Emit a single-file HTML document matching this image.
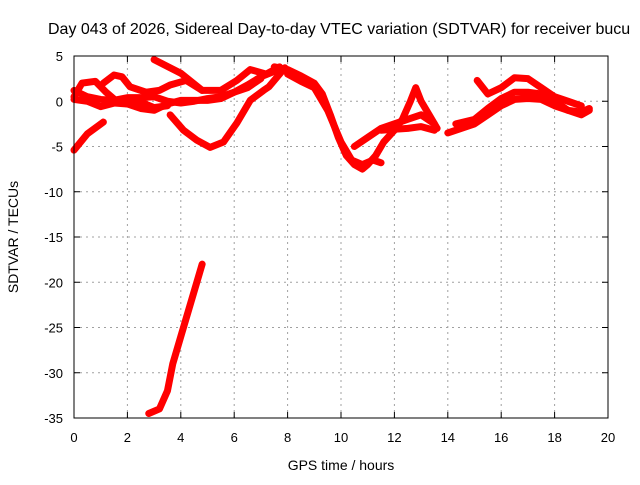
<!DOCTYPE html>
<html><head><meta charset="utf-8"><style>
body{margin:0;background:#fff}
svg{font-family:"Liberation Sans",sans-serif;font-size:13px}
</style></head><body>
<svg id="c" width="640" height="480">
<text x="48" y="34" font-size="16">Day 043 of 2026, Sidereal Day-to-day VTEC variation (SDTVAR) for receiver bucu</text>
<g id="grid"></g><g id="ticks"></g><g id="series"></g>
<rect x="74" y="56" width="534" height="362" fill="none" stroke="#000" stroke-width="1"/>
<text x="341" y="470" text-anchor="middle" font-size="14">GPS time / hours</text>
<text transform="translate(18,237) rotate(-90)" text-anchor="middle" font-size="14">SDTVAR / TECUs</text>
</svg>
<script>
const xTicks=[0,2,4,6,8,10,12,14,16,18,20];
const yTicks=[5,0,-5,-10,-15,-20,-25,-30,-35];
const tracks=[
[[0,-5.4],[0.5,-3.6],[1.1,-2.3]],
[[3.6,-1.5],[4.1,-3.2],[4.6,-4.3],[5.1,-5.1],[5.6,-4.5],[6.1,-2.4],[6.6,0.1],[7.1,1.2],[7.3,1.6],[7.9,3.7]],
[[3.0,4.6],[4.0,3.1],[4.8,1.2],[5.5,1.2],[6.1,2.3],[6.6,3.5],[7.2,3.0],[7.7,3.8]],
[[1.1,2.0],[1.5,2.9],[1.8,2.7],[2.1,1.6],[2.7,1.0],[3.2,1.2],[3.6,1.8],[4.2,2.3],[4.8,1.2]],
[[0,0.5],[0.3,2.0],[0.8,2.2],[1.2,1.0],[1.6,0.0],[2.0,-0.3],[2.5,-0.8],[3.0,-1.0],[3.5,-0.3],[4,0.1],[5,0.1],[5.5,0.3],[6,1.0],[6.5,1.8],[7,2.7],[7.5,3.3]],
[[0,1.2],[0.5,0.5],[1,0.2],[1.5,0.1],[2,0.4],[2.5,0.4],[3,0.5],[3.5,0.0],[4,-0.2],[4.5,0.0],[5,0.3],[5.5,0.5],[6,1.0],[6.5,1.5],[7,2.5]],
[[0,0.2],[0.5,0.0],[1,-0.6],[1.5,-0.2],[2,-0.3],[2.5,-0.1],[3,-0.7],[3.5,-0.5]],
[[7.5,3.8],[8,3.5],[8.5,2.8],[9,2.0],[9.3,0.8],[9.6,-1.5],[9.9,-4],[10.2,-6],[10.5,-7],[10.8,-7.5],[11,-7],[11.3,-6],[11.6,-4.5],[12,-3.2],[12.3,-2],[12.6,0],[12.8,1.5],[13,0],[13.3,-1.5],[13.6,-3]],
[[8,3.0],[8.5,2.2],[9,1.5],[9.5,-1],[10,-4.5],[10.4,-6.5],[10.8,-7],[11.2,-6.5],[11.5,-6.8]],
[[10.5,-5],[11,-4],[11.5,-3],[12,-2.5],[12.5,-2],[13,-1.5],[13.5,-2.5]],
[[11.5,-3.2],[12,-3.1],[12.5,-3],[13,-2.8],[13.5,-3.2]],
[[14,-3.5],[14.5,-3],[15,-2.5],[15.5,-1.5],[16,-0.5],[16.5,0.2],[17,0.3],[17.5,0.2],[18,-0.5],[18.5,-1],[19,-1.5],[19.3,-1]],
[[15.1,2.3],[15.5,0.8],[16,1.5],[16.5,2.6],[17,2.5],[17.5,1.5],[18,0.5],[18.5,0],[19,-0.5]],
[[14.3,-2.5],[15,-2],[15.5,-0.8],[16,0.3],[16.5,1.0],[17,1.0],[17.5,0.8],[18,0],[18.5,-1],[19,-1.2],[19.3,-0.8]],
[[2.8,-34.5],[3.2,-34],[3.5,-32],[3.7,-29],[4.0,-26],[4.3,-23],[4.6,-20],[4.8,-18]]
];
const ns="http://www.w3.org/2000/svg";
const X=h=>74+h*534/20, Y=v=>56+(5-v)*362/40;
const grid=document.getElementById('grid'),ticks=document.getElementById('ticks'),ser=document.getElementById('series');
function mk(t,a,p){const e=document.createElementNS(ns,t);for(const k in a)e.setAttribute(k,a[k]);p.appendChild(e);return e;}
xTicks.forEach(t=>{const x=X(t);
 if(t>0&&t<20){const l=mk('line',{x1:x,x2:x,y1:56,y2:418,stroke:'#a0a0a0','stroke-dasharray':'2,4'},grid);
 
 }
 mk('line',{x1:x,x2:x,y1:418,y2:412,stroke:'#000'},ticks);mk('line',{x1:x,x2:x,y1:56,y2:62,stroke:'#000'},ticks);
 const s=mk('text',{x:x,y:442,'text-anchor':'middle'},ticks);s.textContent=t;
 
 });
yTicks.forEach(t=>{const y=Y(t);
 if(t<5&&t>-35){const l=mk('line',{x1:74,x2:608,y1:y,y2:y,stroke:'#a0a0a0','stroke-dasharray':'2,4'},grid);
 
 }
 mk('line',{x1:74,x2:80,y1:y,y2:y,stroke:'#000'},ticks);mk('line',{x1:608,x2:602,y1:y,y2:y,stroke:'#000'},ticks);
 const s=mk('text',{x:63,y:y+5,'text-anchor':'end'},ticks);s.textContent=t;
 
 });
tracks.forEach(tr=>{
 const p=mk('polyline',{points:tr.map(d=>X(d[0])+','+Y(d[1])).join(' '),fill:'none',stroke:'#f00','stroke-width':7,'stroke-linejoin':'round','stroke-linecap':'round'},ser);
 
 });
</script>
</body></html>
